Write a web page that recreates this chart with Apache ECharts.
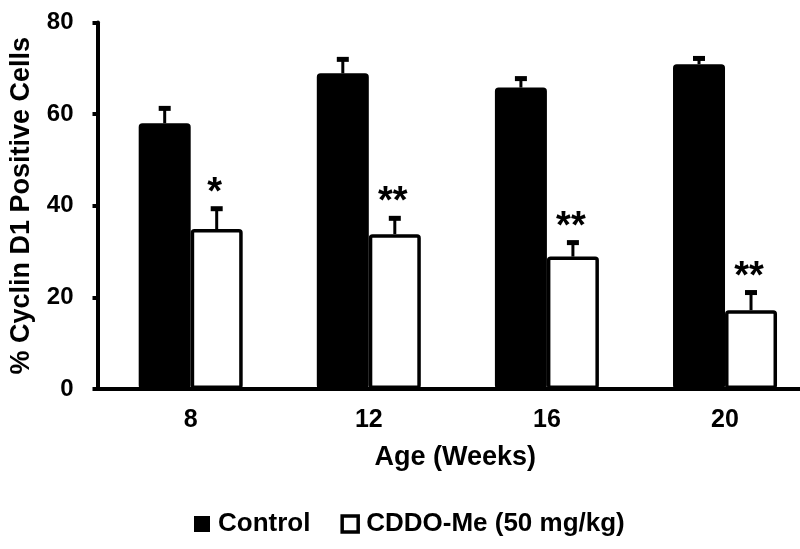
<!DOCTYPE html>
<html>
<head>
    <meta charset="utf-8">
    <title>Cyclin D1 positive cells</title>
    <script src="https://cdn.jsdelivr.net/npm/echarts@6/dist/echarts.min.js"></script>
</head>
<body style="margin:0">
<div id="main" style="width: 800px;height:549px;"></div>
<script type="text/javascript">
    // values
    var weeks = [8, 12, 16, 20];
    var controlMean = [58.0, 68.9, 65.8, 70.9];
    var controlErr = [3.8, 3.6, 2.5, 1.8];
    var cddoMean = [34.9, 33.8, 28.9, 17.2];
    var cddoErr = [5.0, 4.0, 3.6, 4.4];
    var sigMarks = ['*', '**', '**', '**'];
    var seriesNames = ['Control', 'CDDO-Me (50 mg/kg)'];

    var FONT = 'Liberation Sans';
    var BAR_W = 52;

    var myChart = echarts.init(document.getElementById('main'));

    // error bar (+ optional star) drawn over a bar, dx = shift of the bar centre
    function errorRenderer(dx, marks) {
        return function (params, api) {
            var x = api.value(0), mean = api.value(1), err = api.value(2);
            var base = api.coord([x, mean]);
            var top = api.coord([x, mean + err]);
            var cx = base[0] + dx;
            var children = [
                {
                    type: 'line',
                    shape: {x1: cx, y1: base[1], x2: cx, y2: top[1] + 2},
                    style: {stroke: '#000', lineWidth: 3}
                },
                {
                    type: 'rect',
                    shape: {x: cx - 6, y: top[1], width: 12, height: 5},
                    style: {fill: '#000'}
                }
            ];
            if (marks) {
                children.push({
                    type: 'text',
                    style: {
                        x: cx - 2, y: top[1] + 6,
                        text: marks[params.dataIndex],
                        fill: '#000',
                        font: 'bold 38px "' + FONT + '"',
                        align: 'center',
                        verticalAlign: 'bottom'
                    }
                });
            }
            return {type: 'group', children: children};
        };
    }

    function zipData(a, b, c) {
        return weeks.map(function (w, i) {
            return c ? [w, a[i], c[i]] : [w, a[i]];
        });
    }

    myChart.setOption({
        animation: false,
        textStyle: {fontFamily: FONT},
        grid: {left: 97.5, right: 0, top: 22.5, bottom: 160, outerBoundsMode: 'none'},
        legend: {
            bottom: 7,
            left: 189,
            icon: 'rect',
            itemWidth: 16,
            itemHeight: 16,
            itemGap: 30,
            textStyle: {fontSize: 26, fontWeight: 'bold', color: '#000', padding: [0, 0, 0, 3]},
            data: [
                {name: seriesNames[0], itemStyle: {color: '#000', borderWidth: 0}},
                {name: seriesNames[1], itemStyle: {color: '#fff', borderColor: '#000', borderWidth: 3.5}}
            ]
        },
        xAxis: {
            type: 'value',
            min: 5.907,
            max: 21.684,
            name: 'Age (Weeks)',
            nameLocation: 'middle',
            nameGap: 55,
            nameTextStyle: {fontSize: 27, fontWeight: 'bold', color: '#000', padding: [0, 0, 0, 13]},
            axisLine: {show: true, lineStyle: {color: '#000', width: 4}},
            axisTick: {show: false},
            splitLine: {show: false},
            axisLabel: {
                customValues: weeks,
                fontSize: 25,
                fontWeight: 'bold',
                color: '#000',
                margin: 19
            }
        },
        yAxis: {
            type: 'value',
            min: 0,
            max: 80,
            interval: 20,
            name: '% Cyclin D1 Positive Cells',
            nameLocation: 'middle',
            nameGap: 62,
            nameTextStyle: {fontSize: 27, fontWeight: 'bold', color: '#000'},
            axisLine: {show: true, lineStyle: {color: '#000', width: 4}},
            axisTick: {show: true, length: 5, lineStyle: {color: '#000', width: 4}},
            splitLine: {show: false},
            axisLabel: {fontSize: 24, fontWeight: 'bold', color: '#000', margin: 24}
        },
        series: [
            {
                name: seriesNames[0],
                type: 'bar',
                barWidth: BAR_W,
                barGap: '0%',
                itemStyle: {color: '#000', borderColor: '#000', borderWidth: 3.5, borderRadius: 2},
                data: zipData(controlMean)
            },
            {
                name: seriesNames[1],
                type: 'bar',
                barWidth: BAR_W,
                barGap: '0%',
                itemStyle: {color: '#fff', borderColor: '#000', borderWidth: 3.5, borderRadius: 2},
                data: zipData(cddoMean)
            },
            {
                type: 'custom',
                z: 5,
                renderItem: errorRenderer(-BAR_W / 2, null),
                data: zipData(controlMean, null, controlErr)
            },
            {
                type: 'custom',
                z: 5,
                renderItem: errorRenderer(BAR_W / 2, sigMarks),
                data: zipData(cddoMean, null, cddoErr)
            }
        ]
    });
</script>
</body>
</html>
